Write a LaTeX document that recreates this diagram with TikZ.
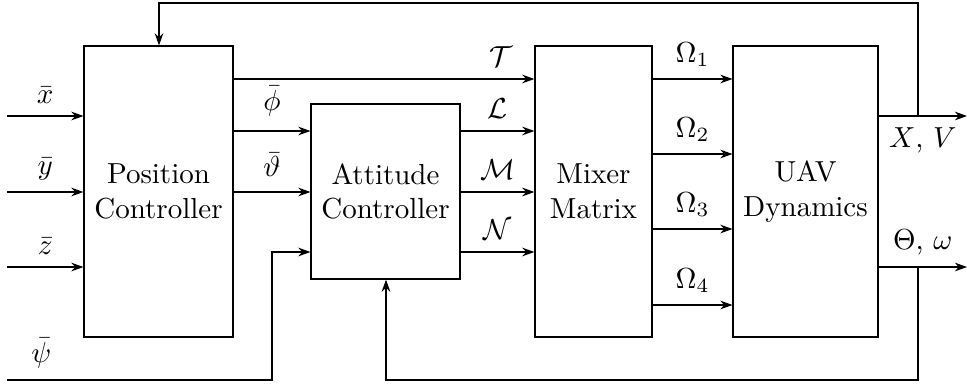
\documentclass[tikz,border=0pt]{standalone}
\usetikzlibrary{arrows.meta,calc}
\begin{document}
\begin{tikzpicture}[x=0.345pt,y=-0.345pt,
  blk/.style={draw,rectangle,align=center,inner sep=0pt},
  arr/.style={-{Stealth[length=4.2pt,width=3pt]}},
  lbl/.style={inner sep=2pt}]
\useasboundingbox (0,0) rectangle (967,385);
% blocks
\node[blk,minimum width=51.4pt,minimum height=100.4pt] (pc) at (158.5,191.5) {Position\\Controller};
\node[blk,minimum width=51.4pt,minimum height=60.4pt] (ac) at (385.5,191.5) {Attitude\\Controller};
\node[blk,minimum width=40.4pt,minimum height=100.4pt] (mm) at (593.5,191.5) {Mixer\\Matrix};
\node[blk,minimum width=50.0pt,minimum height=100.4pt] (uav) at (805.5,191.5) {UAV\\Dynamics};
% free ends
\coordinate (xin) at (7,116);
\coordinate (yin) at (7,192);
\coordinate (zin) at (7,267);
\coordinate (psiin) at (7,380);
\coordinate (xvout) at (967,116);
\coordinate (twout) at (967,267);
% inputs
\draw[arr] (xin) -- node[above,lbl,yshift=2pt]{$\bar{x}$} (xin -| pc.west);
\draw[arr] (yin) -- node[above,lbl,yshift=2pt]{$\bar{y}$} (yin -| pc.west);
\draw[arr] (zin) -- node[above,lbl,yshift=2pt]{$\bar{z}$} (zin -| pc.west);
\draw[arr] (psiin) -- node[pos=0.13,above,lbl,yshift=2pt]{$\bar{\psi}$} (272,380) -- (272,252) -- (ac.west |- 0,252);
% position -> attitude / mixer
\draw[arr] (pc.east |- 0,79) -- node[pos=0.89,above,lbl,yshift=2pt]{$\mathcal{T}$} (mm.west |- 0,79);
\draw[arr] (pc.east |- 0,131) -- node[above,lbl,yshift=3pt]{$\bar{\phi}$} (ac.west |- 0,131);
\draw[arr] (pc.east |- 0,192) -- node[above,lbl,yshift=3pt]{$\bar{\vartheta}$} (ac.west |- 0,192);
% attitude -> mixer
\draw[arr] (ac.east |- 0,131) -- node[above,lbl,yshift=2pt]{$\mathcal{L}$} (mm.west |- 0,131);
\draw[arr] (ac.east |- 0,192) -- node[above,lbl,yshift=2pt]{$\mathcal{M}$} (mm.west |- 0,192);
\draw[arr] (ac.east |- 0,252) -- node[above,lbl,yshift=2pt]{$\mathcal{N}$} (mm.west |- 0,252);
% mixer -> uav
\draw[arr] (mm.east |- 0,79) -- node[above,lbl,yshift=2pt]{$\Omega_1$} (uav.west |- 0,79);
\draw[arr] (mm.east |- 0,154) -- node[above,lbl,yshift=2pt]{$\Omega_2$} (uav.west |- 0,154);
\draw[arr] (mm.east |- 0,229) -- node[above,lbl,yshift=2pt]{$\Omega_3$} (uav.west |- 0,229);
\draw[arr] (mm.east |- 0,305) -- node[above,lbl,yshift=2pt]{$\Omega_4$} (uav.west |- 0,305);
% outputs
\draw[arr] (uav.east |- xvout) -- node[below,lbl,yshift=-2pt]{$X$, $V$} (xvout);
\draw[arr] (uav.east |- twout) -- node[above,lbl,yshift=2pt]{$\Theta$, $\omega$} (twout);
% feedback
\draw[arr] (918,116) -- (918,3) -- (159,3) -- (pc.north -| 159,0);
\draw[arr] (918,267) -- (918,380) -- (386,380) -- (ac.south -| 386,0);
\end{tikzpicture}
\end{document}
